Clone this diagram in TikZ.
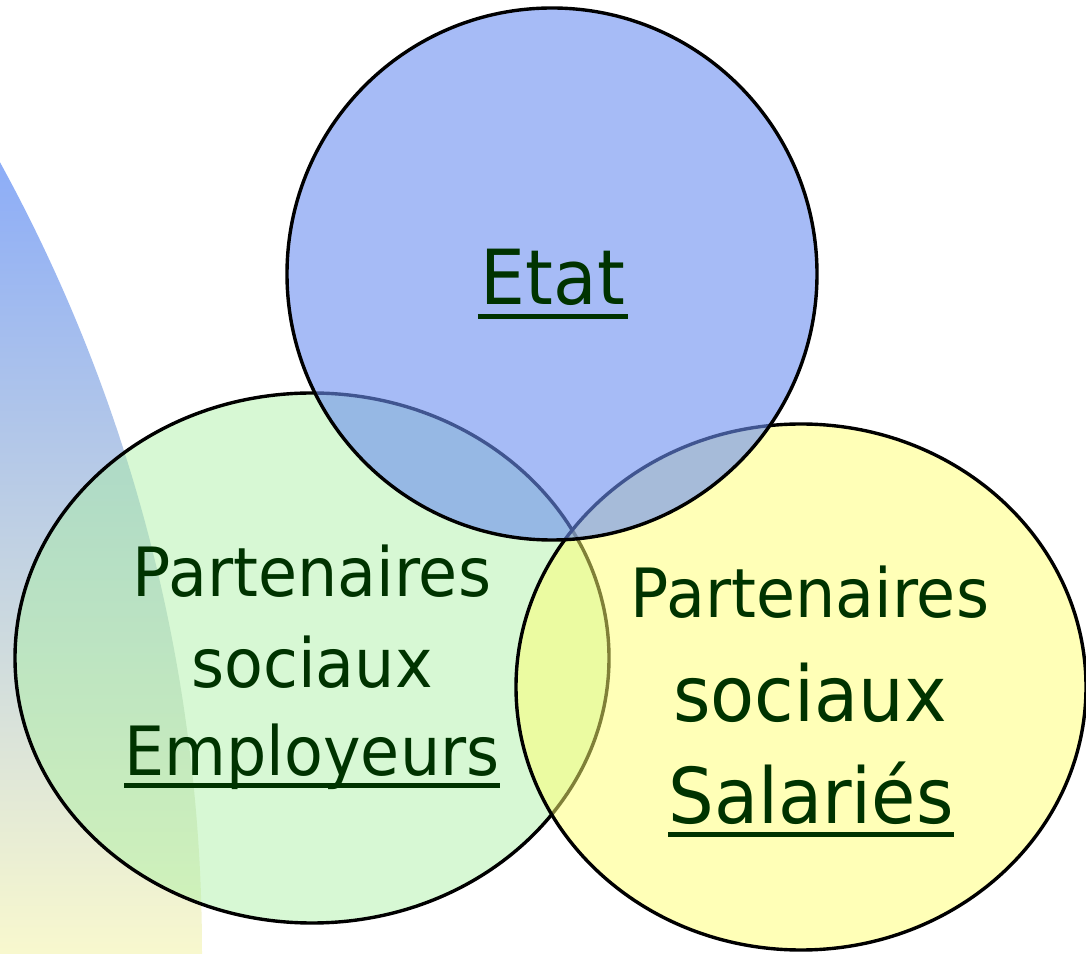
\documentclass[tikz,border=0pt]{standalone}
\usepackage{graphicx}
\usepackage{fontspec}
\setmainfont{DejaVu Sans}
\definecolor{txt}{HTML}{003300}
\definecolor{gtop}{HTML}{8DADF7}
\definecolor{gbot}{HTML}{F8F8CE}
\definecolor{bluef}{HTML}{6C8EF0}
\definecolor{greenf}{HTML}{A8F0A0}
\definecolor{yellowf}{HTML}{FFFF70}
\tikzset{
  ell/.style={draw=black, line width=3.4pt, fill opacity=0.45},
  lbl/.style={inner sep=0pt, anchor=base, text=txt},
  ul/.style={draw=txt, line width=5pt}
}
\newcommand{\tall}[1]{\scalebox{1}[1.07]{#1}}
\begin{document}
\begin{tikzpicture}[x=1pt,y=1pt]
\useasboundingbox (0,0) rectangle (1086,953);
\fill[white] (0,0) rectangle (1086,953);
% left gradient arc
\begin{scope}
  \clip (-1444,0) circle (1646);
  \shade[top color=gtop, bottom color=gbot] (0,0) rectangle (220,790);
\end{scope}
% ellipses
\path[ell, fill=greenf] (312,295) ellipse [x radius=297, y radius=265];
\path[ell, fill=yellowf, fill opacity=0.5] (801,266) ellipse [x radius=285, y radius=263];
\path[ell, fill=bluef, fill opacity=0.6] (552,679) ellipse [x radius=265, y radius=266];
% Etat
\node[lbl, font=\fontsize{71}{71}\selectfont] (etat) at (553,648) {\tall{Etat}};
\draw[ul] ([xshift=-3pt,yshift=-12pt]etat.base west) -- ([xshift=3pt,yshift=-12pt]etat.base east);
% left
\node[lbl, font=\fontsize{63.5}{63.5}\selectfont] (l1) at (312,356) {\tall{Partenaires}};
\node[lbl, font=\fontsize{63.5}{63.5}\selectfont] (l2) at (312,265) {\tall{sociaux}};
\node[lbl, font=\fontsize{63.5}{63.5}\selectfont] (l3) at (312,178) {\tall{Employeurs}};
\draw[ul] ([yshift=-10pt]l3.base west) -- ([yshift=-10pt]l3.base east);
% right
\node[lbl, font=\fontsize{63.5}{63.5}\selectfont] (r1) at (810,335) {\tall{Partenaires}};
\node[lbl, font=\fontsize{72}{72}\selectfont] (r2) at (810,231) {\tall{sociaux}};
\node[lbl, font=\fontsize{72}{72}\selectfont] (r3) at (811,130) {\tall{Salariés}};
\draw[ul] ([yshift=-11pt]r3.base west) -- ([yshift=-11pt]r3.base east);
\end{tikzpicture}
\end{document}
